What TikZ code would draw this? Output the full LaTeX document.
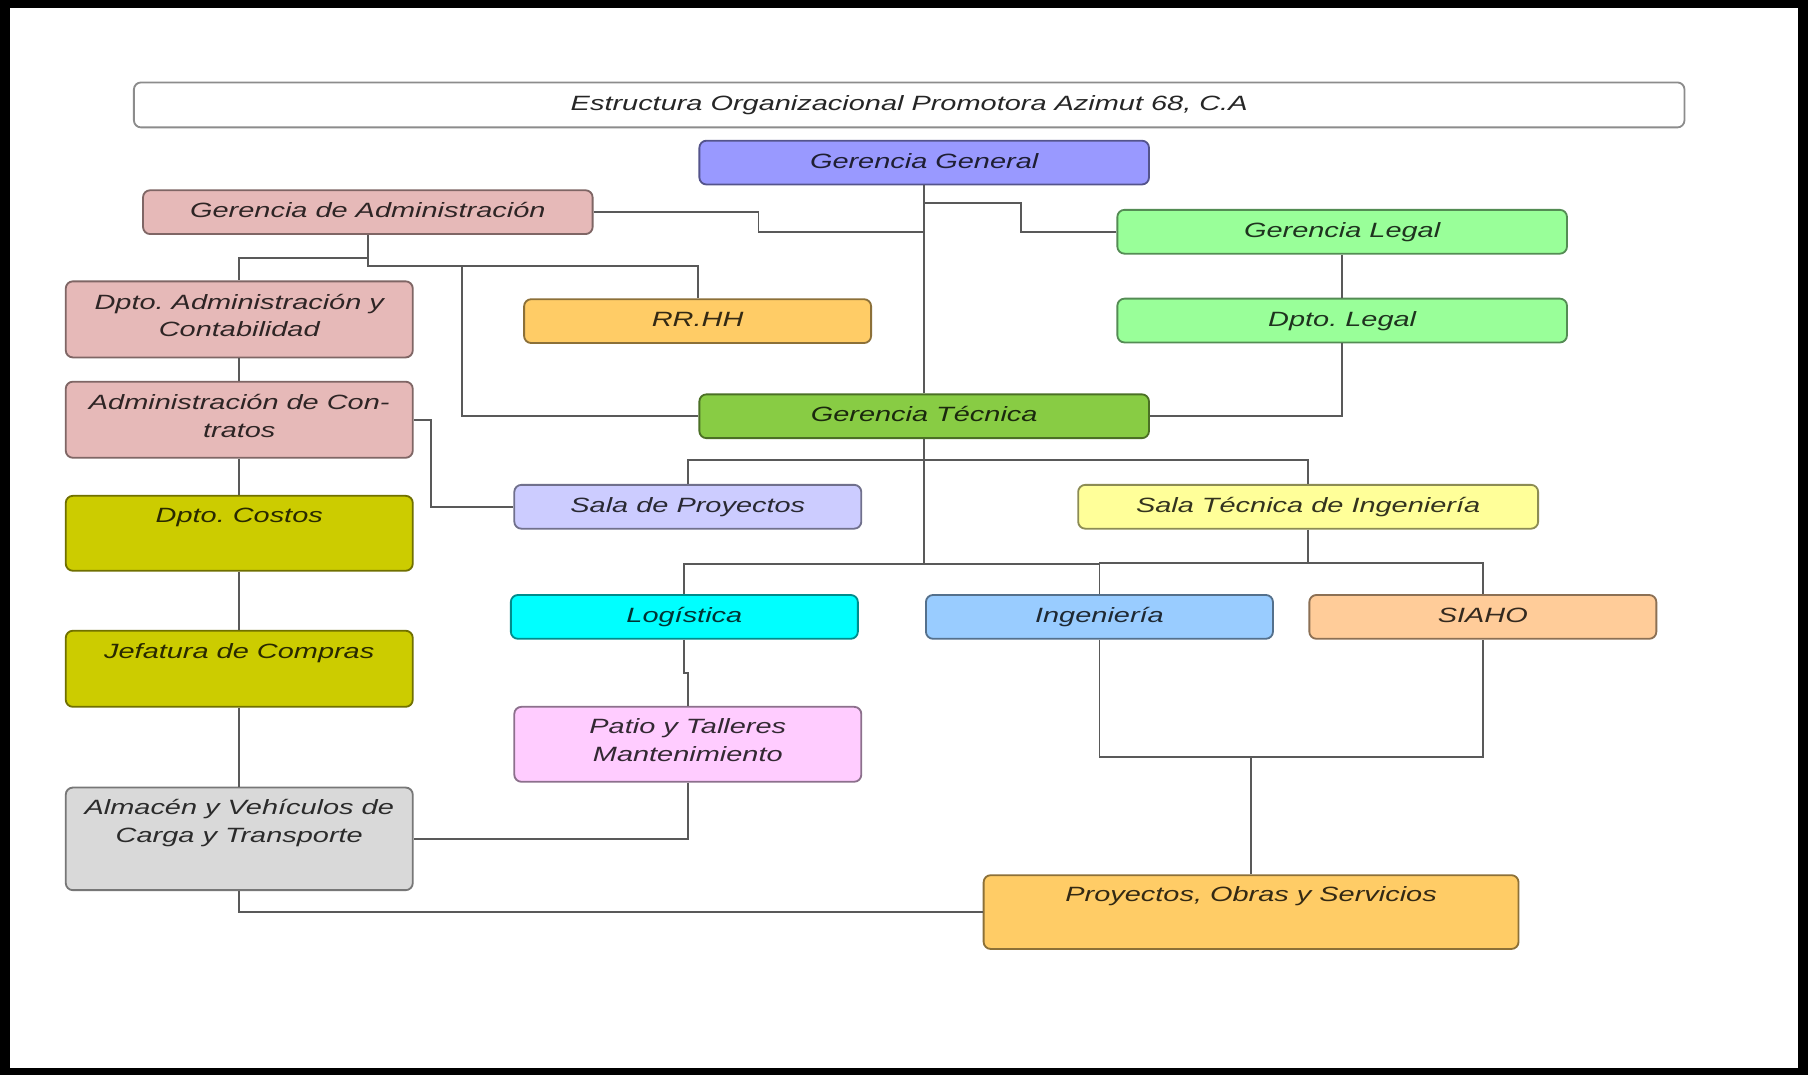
\documentclass[tikz,border=0pt]{standalone}
\usepackage{fontspec}
\newfontfamily\orgfont{Liberation Sans}[FakeStretch=1.4]
\usetikzlibrary{positioning,calc}
\frenchspacing

\definecolor{violetGG}{HTML}{9999FF}
\definecolor{pinkAdm}{HTML}{E6B9B8}
\definecolor{greenLeg}{HTML}{99FF99}
\definecolor{orangeRH}{HTML}{FFCC66}
\definecolor{greenTec}{HTML}{88CC44}
\definecolor{lavSala}{HTML}{CCCCFF}
\definecolor{yelSala}{HTML}{FFFF99}
\definecolor{oliveCost}{HTML}{CCCC00}
\definecolor{cyanLog}{HTML}{00FFFF}
\definecolor{blueIng}{HTML}{99CCFF}
\definecolor{peachSia}{HTML}{FFCC99}
\definecolor{pinkPatio}{HTML}{FFCCFF}
\definecolor{grayAlm}{HTML}{D9D9D9}

\begin{document}
\begin{tikzpicture}[x=0.02cm,y=-0.02cm,
    box/.style={rounded corners=3.5pt,draw=#1!55!black,fill=#1,text=#1!20!black,
      line width=0.9pt,font=\orgfont\itshape\fontsize{10.2}{13.66}\selectfont,
      align=center,inner sep=0pt,minimum height=0.76cm,
      execute at begin node=\frenchspacing\strut},
    wide/.style={minimum width=7.8cm},
    narrow/.style={minimum width=6.02cm},
    link/.style={draw=black!65,line width=0.9pt}
  ]
  \fill[black] (0,0) rectangle (1568,932);
  \fill[white] (9,7) rectangle (1559,926);
  \useasboundingbox (0,0) rectangle (1568,932);

  \node[box=white,draw=black!45,text=black!85,minimum width=26.9cm,minimum height=0.78cm] (title) at (788.5,91)
    {Estructura Organizacional Promotora Azimut 68, C.A};

  \node[box=violetGG,wide] (gg) at (801.5,141) {Gerencia General};
  \node[box=pinkAdm,wide] (gadm) at (319,184) {Gerencia de Administración};
  \node[box=greenLeg,wide] (glegal) at (1164,201) {Gerencia Legal};
  \node[box=pinkAdm,narrow,minimum height=1.32cm] (dadm) at (207.5,277) {Dpto. Administración y\\Contabilidad};
  \node[box=orangeRH,narrow] (rrhh) at (605,278.5) {RR.HH};
  \node[box=greenLeg,wide] (dlegal) at (1164,278) {Dpto. Legal};
  \node[box=pinkAdm,narrow,minimum height=1.32cm] (acont) at (207.5,364) {Administración de Con-\\tratos};
  \node[box=greenTec,wide] (gtec) at (801.5,361) {Gerencia Técnica};
  \node[box=lavSala,narrow] (salap) at (596.5,439.5) {Sala de Proyectos};
  \node[box=yelSala,minimum width=7.98cm] (sti) at (1134.5,439.5) {Sala Técnica de Ingeniería};
  \node[box=oliveCost,narrow,minimum height=1.3cm] (dcost) at (207.5,462.5) {Dpto. Costos\\\strut};
  \node[box=cyanLog,narrow] (logis) at (593.5,535) {Logística};
  \node[box=blueIng,narrow] (ing) at (953.5,535) {Ingeniería};
  \node[box=peachSia,narrow] (siaho) at (1286,535) {SIAHO};
  \node[box=oliveCost,narrow,minimum height=1.32cm] (jcomp) at (207.5,580) {Jefatura de Compras\\\strut};
  \node[box=pinkPatio,narrow,minimum height=1.3cm] (patio) at (596.5,645.5) {Patio y Talleres\\Mantenimiento};
  \node[box=grayAlm,narrow,minimum height=1.78cm] (alm) at (207.5,727.5) {Almacén y Vehículos de\\Carga y Transporte\\\strut};
  \node[box=orangeRH,minimum width=9.28cm,minimum height=1.28cm] (pos) at (1085,791) {Proyectos, Obras y Servicios\\\strut};

  % gerencias
  \draw[link] (gg) -- (gtec);
  \draw[link] (gadm.east) -- ++(143,0) -- ++(0,17) -| (gg.south);
  \draw[link] (glegal.west) -- ++(-83,0) -- ++(0,-25) -| (gg.south);
  \draw[link] (glegal) -- (dlegal);
  \draw[link] (dlegal.south) |- (gtec.east);
  \draw[link] (gadm.south) -- ++(0,20) -| (dadm.north);
  \draw[link] (gadm.south) -- ++(0,27) coordinate (abus) -| (rrhh.north);
  \draw[link] (gtec.west) -| ($(abus)+(82,0)$);

  % columna de administracion
  \draw[link] (dadm) -- (acont);
  \draw[link] (acont) -- (dcost);
  \draw[link] (dcost) -- (jcomp);
  \draw[link] (jcomp) -- (alm);
  \draw[link] (acont.east) -- ++(15,0) |- (salap.west);
  \draw[link] (alm.south) |- (pos.west);

  % gerencia tecnica
  \draw[link] (salap.north) -- ++(0,-21) -| (sti.north);
  \draw[link] (gtec.south) -- ++(0,108) coordinate (tbus) -| (logis.north);
  \draw[link] (tbus) -| (ing.north);
  \draw[link] (sti.south) -- ++(0,29) coordinate (sbus) -| (ing.north);
  \draw[link] (sbus) -| (siaho.north);
  \draw[link] (logis.south) -- ++(0,29) -| (patio.north);
  \draw[link] (patio.south) |- (alm.east);
  \draw[link] (ing.south) -- ++(0,102) coordinate (ibus) -| (siaho.south);
  \draw[link] (ibus) -| (pos.north);
\end{tikzpicture}
\end{document}
